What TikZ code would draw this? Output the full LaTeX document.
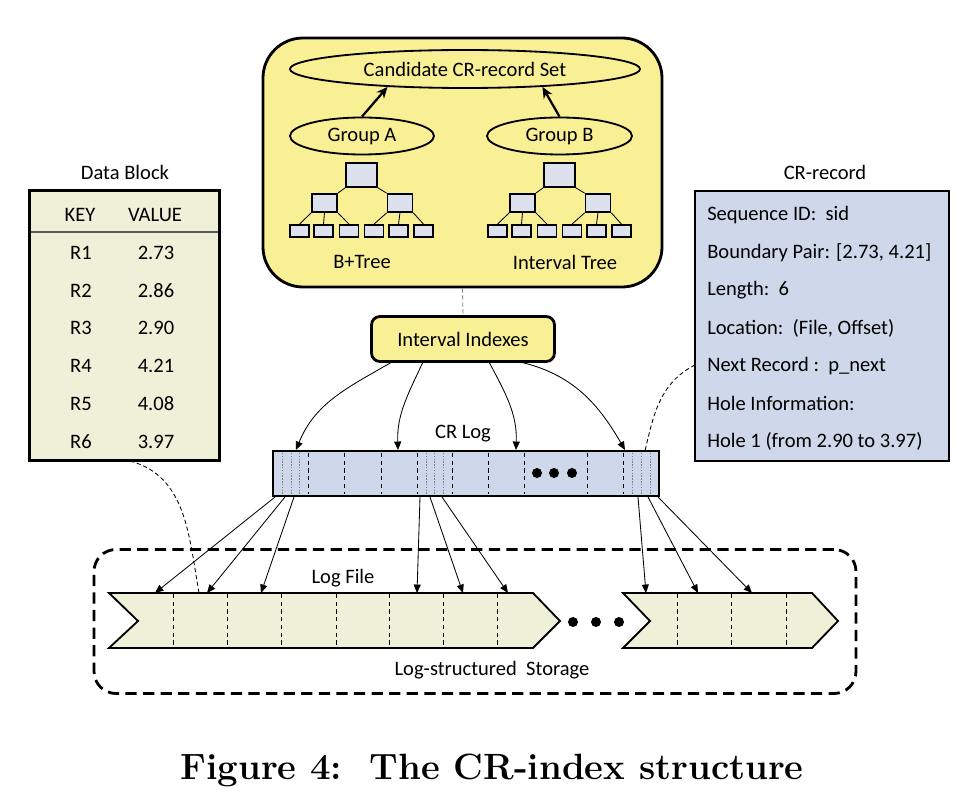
\documentclass[tikz,border=0pt]{standalone}
\usepackage{fontspec}
\newfontfamily\calibri{Carlito}
\usetikzlibrary{shapes.geometric,arrows.meta}
\definecolor{boxyellow}{RGB}{249,240,150}
\definecolor{blockgreen}{RGB}{238,240,216}
\definecolor{logblue}{RGB}{207,216,234}
\definecolor{treegrey}{RGB}{221,225,238}
\newcommand{\px}{0.025cm}
\tikzset{
  every node/.style={font=\calibri\fontsize{14.6}{17}\selectfont},
  bigbox/.style={draw,line width=2pt,inner sep=0pt},
  grp/.style={draw,ellipse,line width=1.3pt,inner sep=0pt},
  treebox/.style={draw,line width=1.2pt,fill=treegrey,inner sep=0pt},
  leafbox/.style={treebox,minimum width=19*\px,minimum height=12*\px},
  upar/.style={line width=1.6pt,-{Stealth[length=8pt,width=7pt]}},
  thinar/.style={line width=0.6pt,-{Triangle[length=6pt,width=5pt]}},
  slot/.style={line width=0.7pt,dash pattern=on 3pt off 2.5pt},
  fineslot/.style={line width=0.5pt,gray,dash pattern=on 1pt off 1pt},
  hint/.style={line width=0.6pt,dash pattern=on 3pt off 2pt}
}
\begin{document}
\begin{tikzpicture}[x=\px,y=-\px]
\useasboundingbox (0,0) rectangle (976,807);

\node[bigbox,fill=boxyellow,rounded corners=1cm,minimum width=399*\px,minimum height=249*\px] (top) at (462.5,162.5) {};
\node[grp,minimum width=350*\px,minimum height=38*\px] (cand) at (465,69) {Candidate CR-record Set};
\node[grp,minimum width=144*\px,minimum height=37*\px] (ga) at (362,136) {Group A};
\node[grp,minimum width=145*\px,minimum height=37*\px] (gb) at (559.5,136) {Group B};
\draw[upar] (ga.north) -- (cand.193);
\draw[upar] (gb.north) -- (cand.-13);

\foreach \t/\c in {bp/361.5,it/559.5}{
  \node[treebox,minimum width=31*\px,minimum height=24*\px] (\t r) at (\c,175) {};
  \node[treebox,minimum width=25*\px,minimum height=18*\px] (\t m1) at (\c-37,203) {};
  \node[treebox,minimum width=25*\px,minimum height=18*\px] (\t m2) at (\c+38.5,203) {};
  \foreach \k/\d in {1/-62,2/-38,3/-12.5,4/12.5,5/37,6/62}
    \node[leafbox] (\t l\k) at (\c+\d,231) {};
  \draw[line width=0.6pt] (\t r.south west) -- (\t m1.north east);
  \draw[line width=0.6pt] (\t r.south east) -- (\t m2.north west);
  \draw[line width=0.6pt] (\t m1.south west) -- (\t l1.north);
  \draw[line width=0.6pt] (\t m1.south) -- (\t l2.north);
  \draw[line width=0.6pt] (\t m1.south east) -- (\t l3.north);
  \draw[line width=0.6pt] (\t m2.south west) -- (\t l4.north);
  \draw[line width=0.6pt] (\t m2.south) -- (\t l5.north);
  \draw[line width=0.6pt] (\t m2.south east) -- (\t l6.north);
}
\node (bplabel) at (362,262) {B+Tree};
\node (itlabel) at (565,262) {Interval Tree};

\node[bigbox,fill=boxyellow,rounded corners=6pt,minimum width=183*\px,minimum height=45*\px] (idx) at (463,339) {Interval Indexes};
\draw[hint,gray] (top.south) -- (idx.north);

\node (crlabel) at (463,434) {CR Log};
\node[bigbox,fill=logblue,minimum width=386*\px,minimum height=45*\px] (crlog) at (466,473.5) {};
\foreach \x in {308,344,381,417,452,488,524,587,623}
  \draw[slot] (\x,453) -- (\x,494);
\foreach \x in {282,291,299,426,434,443,632,641,650}
  \draw[fineslot] (\x,453) -- (\x,494);
\foreach \x in {537,554,572}
  \fill (\x,473) circle[radius=0.125cm];

\foreach \n/\a/\b in {1/392/296,2/423/398,3/489/516,4/520/625}{
  \coordinate (is\n) at (\a,362);
  \coordinate (ie\n) at (\b,450);
}
\draw[thinar] (is1) to[out=210,in=68] (ie1);
\draw[thinar] (is2) to[out=245,in=92] (ie2);
\draw[thinar] (is3) to[out=298,in=88] (ie3);
\draw[thinar] (is4) to[out=-13,in=120] (ie4);

\node[draw,line width=2pt,dash pattern=on 8pt off 4.5pt,rounded corners=0.55cm,minimum width=762*\px,minimum height=144*\px] (store) at (475,621.5) {};
\node (lflabel) at (343,578) {Log File};
\node (stlabel) at (492,670) {Log-structured\ \ Storage};

\draw[line width=1.3pt,fill=blockgreen] (109,593) -- (533,593) -- (560,621) -- (533,648) -- (109,648) -- (138,621) -- cycle;
\foreach \x in {173,227,281,336,389,443,497}
  \draw[slot] (\x,594) -- (\x,647);
\draw[line width=1.3pt,fill=blockgreen] (623,593) -- (812,593) -- (838,621) -- (812,648) -- (623,648) -- (650,621) -- cycle;
\foreach \x in {677,731,786}
  \draw[slot] (\x,594) -- (\x,647);
\foreach \x in {573,596,619}
  \fill (\x,622) circle[radius=0.125cm];

\foreach \n/\a/\b in {1/275/155,2/285/207,3/294/261,4/420/417,5/430/463,6/442/508,7/638/646,8/648/698,9/658/752}{
  \coordinate (cs\n) at (\a,497);
  \coordinate (lf\n) at (\b,593);
  \draw[thinar] (cs\n) -- (lf\n);
}

\node (blocklabel) at (125,172) {Data Block};
\node[bigbox,fill=blockgreen,minimum width=190*\px,minimum height=270*\px] (block) at (124.5,325.5) {};
\draw[line width=0.8pt,gray!70!black] (31,232) -- (218,232);
\node (keyhead) at (80,215) {KEY};
\node (valhead) at (155,215) {VALUE};
\foreach \i/\v [count=\k] in {1/2.73,2/2.86,3/2.90,4/4.21,5/4.08,6/3.97}{
  \node (key\k) at (81,215+37.8*\k) {R\i};
  \node (val\k) at (156,215+37.8*\k) {\v};
}

\node (reclabel) at (825,172) {CR-record};
\node[bigbox,fill=logblue,minimum width=254*\px,minimum height=270*\px] (crrec) at (822,326) {};
\foreach \txt [count=\k] in {Sequence ID:\ \ sid,{Boundary Pair: [2.73, 4.21]},Length:\ \ 6,{Location:\ \ (File, Offset)},Next Record :\ \ p\_next,Hole Information:,Hole 1 (from 2.90 to 3.97)}
  \node[anchor=west,inner sep=0pt] (rec\k) at (707,215+37.7*\k-37.7) {\txt};

\coordinate (hs1) at (695,365);
\coordinate (he1) at (645,451);
\draw[hint] (hs1) to[out=207,in=77] (he1);
\coordinate (hs2) at (130,461);
\coordinate (he2) at (199,593);
\draw[hint] (hs2) to[out=-15,in=100] (he2);

\node[font=\rmfamily\bfseries\fontsize{26}{31}\selectfont] (caption) at (492,770) {Figure 4:\ \ The CR-index structure};
\end{tikzpicture}
\end{document}
